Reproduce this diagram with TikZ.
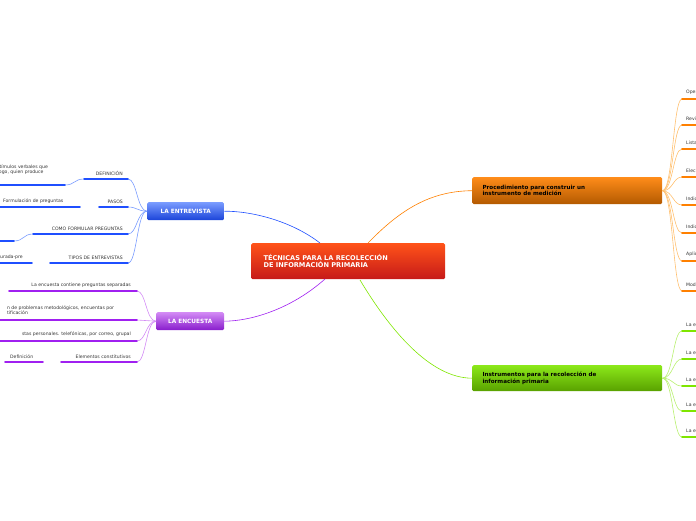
\documentclass[tikz,border=0pt]{standalone}
\usepackage{fontspec}
\setmainfont{DejaVu Sans}
\definecolor{pu}{HTML}{A020F0}
\definecolor{pul}{HTML}{D38BF5}
\definecolor{bu}{HTML}{1F4FFF}
\definecolor{bul}{HTML}{7A9CFF}
\definecolor{gr}{HTML}{7FE600}
\definecolor{grl}{HTML}{B8F070}
\definecolor{orl}{HTML}{FFC070}
\begin{document}
\begin{tikzpicture}[x=1pt,y=-1pt,
 lbl/.style={inner sep=0pt,font=\fontsize{4.6}{5.6}\selectfont,text=black!80,anchor=south west,align=left},
 boxt/.style={rounded corners=1.5pt,inner sep=0pt},
 bl/.style={line width=1.6pt,line cap=round,color=#1},
 cn/.style={line width=0.6pt,color=#1}]
\useasboundingbox (0,0) rectangle (696,520);
\begin{scope}
\clip (0,0) rectangle (696,520);
% boxes
\node[boxt,minimum width=194,minimum height=36,top color=red!50!orange!90,bottom color=red!75!black!90,anchor=north west] (c) at (251,243) {};
\node[font=\bfseries\fontsize{6.6}{7.8}\selectfont,text=white,align=left,anchor=west] (ct) at (260,261) {TÉCNICAS PARA LA RECOLECCIÓN\\DE INFORMACIÓN PRIMARIA};
\node[boxt,minimum width=77,minimum height=18,top color=bul,bottom color=bu!85!black,anchor=north west] (ent) at (147,202) {};
\node[font=\bfseries\fontsize{5.8}{7}\selectfont,text=white] at (ent) {LA ENTREVISTA};
\node[boxt,minimum width=68,minimum height=18,top color=pul,bottom color=pu!85!black,anchor=north west] (enc) at (156,312) {};
\node[font=\bfseries\fontsize{5.8}{7}\selectfont,text=white] at (enc) {LA ENCUESTA};
\node[boxt,minimum width=190,minimum height=27,top color=orange!90,bottom color=orange!70!black,anchor=north west] (pro) at (472,177) {};
\node[font=\bfseries\fontsize{5.6}{6.8}\selectfont,align=left,anchor=west] at (479,190.5) {Procedimiento para construir un\\instrumento de medición};
\node[boxt,minimum width=190,minimum height=26,top color=gr!90!white,bottom color=gr!70!black,anchor=north west] (ins) at (472,365) {};
\node[font=\bfseries\fontsize{5.6}{6.8}\selectfont,align=left,anchor=west] at (479,378) {Instrumentos para la recolección de\\información primaria};
% main connectors
\draw[cn=bu] (320,243) .. controls (290,220) and (250,211) .. (ent.east);
\draw[cn=pu] (325,279) .. controls (290,310) and (250,321) .. (enc.east);
\draw[cn=orange] (368,243) .. controls (400,210) and (430,191) .. (pro.west);
\draw[cn=gr] (360,280) .. controls (390,330) and (430,378) .. (ins.west);
% entrevista leaves
\foreach \y/\xl/\t in {179/84/DEFINICIÓN,207/99/PASOS,234/33/COMO FORMULAR PREGUNTAS,263/50/TIPOS DE ENTREVISTAS}{
 \coordinate (e\y) at (128,\y);
 \draw[cn=bul] (ent.west) .. controls (137,211) and (137,\y) .. (e\y);
 \draw[bl=bu] (\xl,\y) -- (e\y);
 \node[lbl,anchor=south east] at (123,\y-3) {\t};
}
\draw[cn=bul] (84,179) .. controls (74,179) and (75,185) .. (65,185);
\draw[bl=bu] (0,185) -- (65,185);
\node[lbl] at (-3,175) {stímulos verbales que\\rogo, quien produce};
\draw[bl=bu] (0,207) -- (80,207);
\node[lbl] at (3,204) {Formulación de preguntas};
\draw[cn=bul] (33,234) .. controls (23,234) and (24,241) .. (14,241);
\draw[bl=bu] (0,241) -- (14,241);
\draw[bl=bu] (0,263) -- (32,263);
\node[lbl] at (0,260) {urada-pre};
% encuesta leaves
\foreach \y/\xl in {291/9,320/0,341/0,362/61}{
 \coordinate (u\y) at (137,\y);
 \draw[cn=pul] (enc.west) .. controls (146,321) and (146,\y) .. (u\y);
 \draw[bl=pu] (\xl,\y) -- (u\y);
}
\node[lbl,anchor=south east] at (131,288) {La encuesta contiene preguntas separadas};
\node[lbl,anchor=south east] at (126,316) {n de problemas metodológicos, encuentas por\\tificación\phantom{n de problemas metodológicos, encuentas}};
\node[lbl,anchor=south east] at (131,337) {stas personales. telefónicas, por correo, grupal};
\node[lbl,anchor=south east] at (131,359) {Elementos constitutivos};
\draw[bl=pu] (5,362) -- (43,362);
\node[lbl] at (10,359) {Definición};
% orange leaves
\foreach \y/\t in {99/Operacionalización,125/Revisión,149/Listado,177/Elección,205/Indicadores,233/Indicaciones,261/Aplicación,291/Modificación}{
 \coordinate (o\y) at (682,\y);
 \draw[cn=orl] (pro.east) .. controls (673,191) and (673,\y) .. (o\y);
 \draw[bl=orange] (o\y) -- (700,\y);
 \node[lbl] at (686,\y-4) {\t};
}
% green leaves
\foreach \y in {331,359,386,411,437}{
 \coordinate (g\y) at (682,\y);
 \draw[cn=grl] (ins.east) .. controls (673,378) and (673,\y) .. (g\y);
 \draw[bl=gr] (g\y) -- (700,\y);
 \node[lbl] at (686,\y-4) {La encuesta};
}
\end{scope}
\end{tikzpicture}
\end{document}
